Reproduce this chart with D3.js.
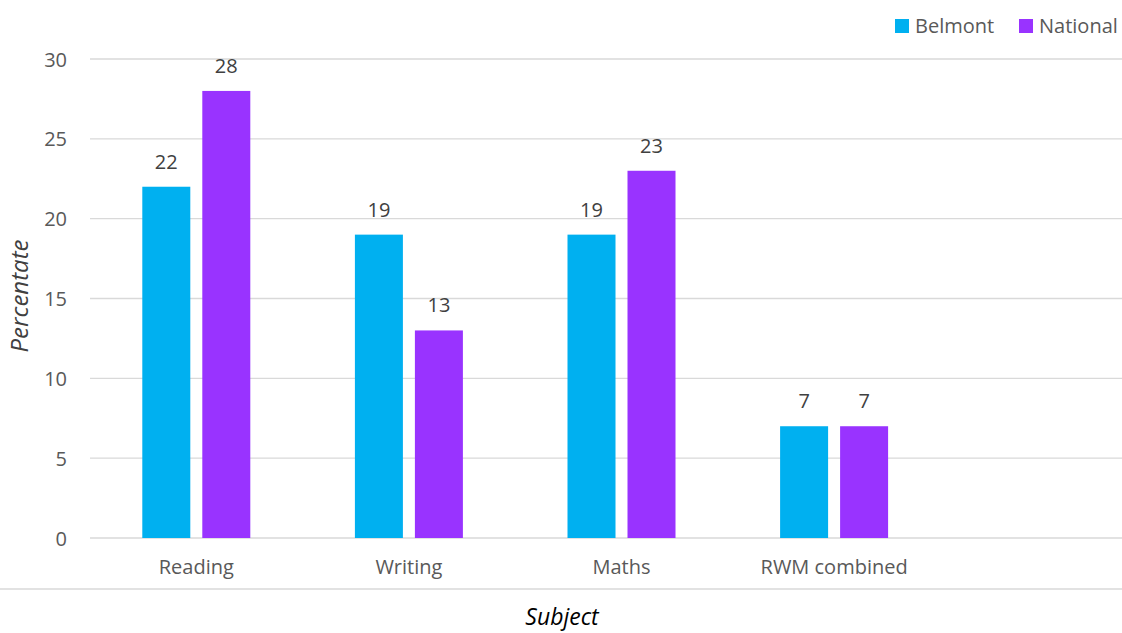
<!DOCTYPE html>
<html><head><meta charset="utf-8">
<script src="https://cdn.jsdelivr.net/npm/d3@7"></script>
<style>body{margin:0;background:#fff}svg{display:block;font-family:"Open Sans",sans-serif}</style>
</head><body><svg id="c" width="1122" height="633"></svg>
<script>
const categories = ["Reading","Writing","Maths","RWM combined",""];
const seriesNames = ["Belmont","National"];
const belmont = [22,19,19,7,null];
const national = [28,13,23,7,null];
const yTicks = [0,5,10,15,20,25,30];
const colors = ["#00B0F0","#9933FF"];

const svg = d3.select("#c");
const W = 1122, H = 633;
const x0 = d3.scaleBand().domain(categories).range([90,1153]).paddingInner(0).paddingOuter(0);
const x1 = d3.scaleBand().domain(seriesNames).range([0,108]).paddingInner(0.2).paddingOuter(0);
const y = d3.scaleLinear().domain([0,30]).range([538,59]);

// gridlines
svg.append("g").selectAll("line").data(yTicks).join("line")
  .attr("x1",90).attr("x2",W).attr("y1",d=>y(d)).attr("y2",d=>y(d))
  .attr("stroke","#d9d9d9").attr("stroke-width",1.3);
// separator
svg.append("line").attr("x1",0).attr("x2",W).attr("y1",589).attr("y2",589)
  .attr("stroke","#d9d9d9").attr("stroke-width",1.3);

// y axis labels
const yAxis = d3.axisLeft(y).tickValues(yTicks).tickSize(0).tickPadding(0);
const ga = svg.append("g").attr("transform","translate(67,0)").call(yAxis);
ga.select(".domain").remove();
ga.selectAll("text").attr("font-size",20).attr("fill","#595959").attr("font-family","Open Sans").attr("dy","0.35em");

// x axis labels
const xAxis = d3.axisBottom(x0).tickSize(0).tickPadding(0);
const gx = svg.append("g").attr("transform","translate(0,567)").call(xAxis);
gx.select(".domain").remove();
gx.selectAll("text").attr("font-size",20).attr("fill","#595959").attr("font-family","Open Sans").attr("dy","0.35em");

const data = [belmont, national];
data.forEach((vals,si)=>{
  const g = svg.append("g");
  const items = categories.map((c,i)=>({c,v:vals[i]})).filter(d=>d.v!=null);
  g.selectAll("rect").data(items).join("rect")
    .attr("x",d=>x0(d.c)+(x0.bandwidth()-108)/2+x1(seriesNames[si]))
    .attr("width",x1.bandwidth())
    .attr("y",d=>y(d.v)).attr("height",d=>y(0)-y(d.v))
    .attr("fill",colors[si]);
  g.selectAll("text").data(items).join("text")
    .attr("x",d=>x0(d.c)+(x0.bandwidth()-108)/2+x1(seriesNames[si])+x1.bandwidth()/2)
    .attr("y",d=>y(d.v)-18)
    .attr("text-anchor","middle").attr("font-size",20).attr("fill","#404040")
    .text(d=>d.v);
});

// axis titles
svg.append("text").attr("transform","translate(28,296) rotate(-90)")
  .attr("text-anchor","middle").attr("font-size",24).attr("font-style","italic").attr("fill","#404040")
  .text("Percentate");
svg.append("text").attr("x",562).attr("y",625)
  .attr("text-anchor","middle").attr("font-size",23).attr("font-style","italic").attr("fill","#000")
  .text("Subject");

// legend
const legX = [895,1019];
seriesNames.forEach((s,i)=>{
  svg.append("rect").attr("x",legX[i]).attr("y",19).attr("width",14).attr("height",14).attr("fill",colors[i]);
  svg.append("text").attr("x",legX[i]+20).attr("y",33).attr("font-size",20).attr("fill","#595959").text(s);
});
</script></body></html>
